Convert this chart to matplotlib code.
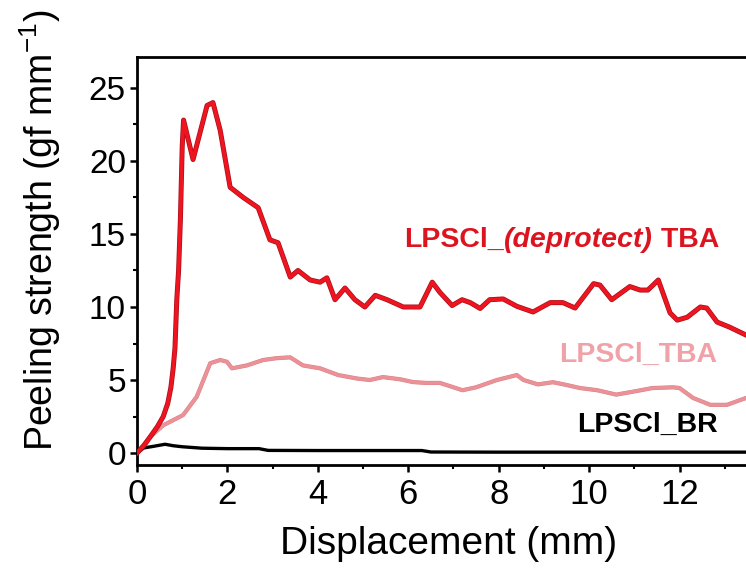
import matplotlib
matplotlib.use("Agg")
import matplotlib.pyplot as plt
import matplotlib.patheffects as pe
from matplotlib.ticker import MultipleLocator
from matplotlib.transforms import offset_copy

plt.rcParams['font.family'] = ['Liberation Sans', 'DejaVu Sans']
plt.rcParams['mathtext.fontset'] = 'custom'
plt.rcParams['mathtext.rm'] = 'Liberation Sans'
plt.rcParams['mathtext.it'] = 'Liberation Sans:italic'
plt.rcParams['mathtext.bf'] = 'Liberation Sans:bold'

# ---- data ----
x_deprotect = [0, 0.15, 0.29, 0.45, 0.58, 0.68, 0.75, 0.80, 0.84, 0.88, 0.92, 0.96, 1.00, 1.03,
               1.24, 1.55, 1.68, 1.84, 2.06, 2.35, 2.68, 2.94, 3.12, 3.39, 3.56, 3.83, 4.05,
               4.20, 4.38, 4.60, 4.82, 5.04, 5.27, 5.53, 5.89, 6.26, 6.53, 6.70, 6.97, 7.19,
               7.37, 7.59, 7.80, 8.10, 8.40, 8.76, 9.14, 9.42, 9.69, 10.10, 10.24, 10.50,
               10.90, 11.13, 11.30, 11.53, 11.79, 11.95, 12.17, 12.46, 12.60, 12.83, 13.10,
               13.47, 13.80]
y_deprotect = [0, 0.5, 1.1, 1.8, 2.5, 3.4, 4.5, 5.8, 7.2, 10.5, 12.5, 16.0, 21.0, 22.8,
               20.1, 23.8, 24.0, 22.1, 18.2, 17.5, 16.8, 14.6, 14.4, 12.05, 12.5, 11.85, 11.7,
               12.0, 10.5, 11.3, 10.5, 10.0, 10.8, 10.5, 10.0, 10.0, 11.7, 11.0, 10.1, 10.5,
               10.3, 9.9, 10.5, 10.55, 10.05, 9.66, 10.3, 10.3, 9.93, 11.6, 11.5, 10.5,
               11.4, 11.16, 11.16, 11.85, 9.6, 9.1, 9.3, 10.0, 9.93, 8.97, 8.63,
               8.08, 7.6]

x_tba = [0, 0.29, 0.58, 1.02, 1.32, 1.62, 1.84, 1.99, 2.10, 2.43, 2.79, 3.10, 3.39, 3.67,
         4.05, 4.45, 4.87, 5.15, 5.44, 5.82, 6.10, 6.40, 6.70, 7.00, 7.20, 7.50, 7.96, 8.40,
         8.55, 8.87, 9.20, 9.50, 9.80, 10.18, 10.60, 10.97, 11.40, 11.86, 12.00, 12.30,
         12.68, 13.05, 13.47, 13.80]
y_tba = [0, 1.1, 1.9, 2.6, 3.85, 6.15, 6.37, 6.25, 5.8, 6.0, 6.37, 6.5, 6.55, 6.0,
         5.8, 5.34, 5.1, 5.0, 5.2, 5.05, 4.86, 4.8, 4.8, 4.5, 4.3, 4.5, 5.0, 5.34,
         5.0, 4.7, 4.85, 4.66, 4.45, 4.3, 4.0, 4.2, 4.45, 4.5, 4.45, 3.77,
         3.3, 3.3, 3.77, 4.0]

x_br = [0, 0.15, 0.35, 0.62, 0.80, 1.00, 1.44, 2.00, 2.70, 2.90, 4.00, 5.00, 6.30, 6.50,
        8.00, 10.00, 12.00, 13.80]
y_br = [0, 0.35, 0.45, 0.6, 0.5, 0.43, 0.33, 0.3, 0.3, 0.18, 0.17, 0.17, 0.17, 0.07,
        0.06, 0.06, 0.06, 0.06]

x_ticks = [0, 2, 4, 6, 8, 10, 12]
y_ticks = [0, 5, 10, 15, 20, 25]

label_deprotect = [('LPSCl_', 'normal'), ('(deprotect)', 'italic'), (' TBA', 'normal')]
label_tba = 'LPSCl_TBA'
label_br = 'LPSCl_BR'

# ---- figure ----
fig = plt.figure(figsize=(7.46, 5.74), dpi=100)
ax = fig.add_axes([137/746, 1 - 465/574, 1.02 - 137/746, (465 - 57)/574])

ax.plot(x_tba, y_tba, color='#ea9298', lw=2.4, zorder=2,
        path_effects=[pe.Stroke(linewidth=3.0, foreground='#dc7f86'), pe.Normal()])
ax.plot(x_br, y_br, color='black', lw=2.4, zorder=3)
ax.plot(x_deprotect, y_deprotect, color='#ee1520', lw=2.6, zorder=4,
        path_effects=[pe.Stroke(linewidth=3.6, foreground='#a8101a'), pe.Normal()])

ax.set_xlim(0, 13.8)
ax.set_ylim(-0.82, 27.12)
ax.set_xticks(x_ticks)
ax.set_yticks(y_ticks)
ax.xaxis.set_minor_locator(MultipleLocator(1))
ax.yaxis.set_minor_locator(MultipleLocator(2.5))

for s in ax.spines.values():
    s.set_linewidth(2.0)
ax.tick_params(which='major', direction='out', length=5, width=1.8, labelsize=24, pad=3)
ax.tick_params(axis='x', which='major', labelsize=25, pad=4)
ax.tick_params(which='minor', direction='out', length=3, width=1.5)

ax.set_xlabel('Displacement (mm)', fontsize=28, labelpad=11)
ax.set_ylabel('Peeling strength (gf mm$^{-1}$)', fontsize=27)
ax.yaxis.label.set_va('center')
ax.yaxis.set_label_coords(-(137 - 40) / (1.02 * 746 - 137), (465 - 230) / (465 - 57))

# mixed-style label, right aligned, pieces placed on a shared baseline
fs = 20.5
renderer = fig.canvas.get_renderer()
pieces = [ax.text(0, 0, s, fontsize=fs, fontweight='bold', fontstyle=st, color='#dc1420')
          for s, st in label_deprotect]
widths = [t.get_window_extent(renderer).width for t in pieces]
total = sum(widths)
xr, yb = 12.88, 14.1
cum = 0.0
for t, w in zip(pieces, widths):
    t.set_position((xr, yb))
    t.set_ha('left')
    t.set_va('baseline')
    t.set_transform(offset_copy(ax.transData, fig=fig, x=(cum - total) * 72 / fig.dpi,
                                y=0, units='points'))
    cum += w

ax.text(12.84, 6.7, label_tba, color='#f0a2a8', fontsize=fs, fontweight='bold',
        ha='right', va='center')
ax.text(12.84, 1.9, label_br, color='black', fontsize=fs, fontweight='bold',
        ha='right', va='center')

fig.savefig('out.png', dpi=100)
